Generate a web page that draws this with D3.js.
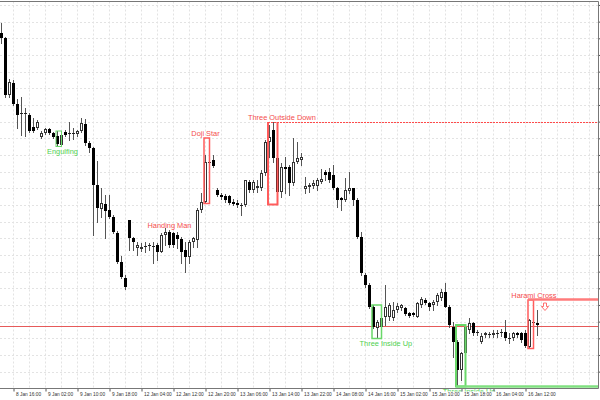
<!DOCTYPE html>
<html><head><meta charset="utf-8">
<script src="https://cdn.jsdelivr.net/npm/d3@7"></script>
<style>body{margin:0;background:#fff}svg{display:block}</style>
</head><body>
<script>
// ---- data (hourly candles) ----
const opens=[1.1967,1.1962,1.1905,1.1917,1.1896,1.1887,1.1887,1.1885,1.1873,1.1872,
1.1863,1.1867,1.1871,1.1867,1.1864,1.1855,1.1868,1.1867,1.1867,1.1866,
1.1869,1.1876,1.1857,1.1852,1.1815,1.1791,1.1796,1.1790,1.1783,1.1767,
1.1738,1.1722,1.1780,1.1762,1.1752,1.1751,1.1754,1.1755,1.1754,1.1755,
1.1748,1.1765,1.1768,1.1767,1.1765,1.1761,1.1750,1.1743,1.1758,1.1760,
1.1790,1.1798,1.1838,1.1840,1.1810,1.1805,1.1804,1.1804,1.1798,1.1797,
1.1795,1.1795,1.1818,1.1810,1.1812,1.1812,1.1827,1.1858,1.1870,1.1842,
1.1808,1.1833,1.1833,1.1817,1.1838,1.1840,1.1811,1.1813,1.1814,1.1814,
1.1818,1.1828,1.1828,1.1825,1.1812,1.1802,1.1800,1.1809,1.1812,1.1800,
1.1763,1.1725,1.1715,1.1693,1.1672,1.1673,1.1683,1.1683,1.1682,1.1690,
1.1692,1.1692,1.1687,1.1687,1.1683,1.1695,1.1700,1.1697,1.1695,1.1698,
1.1702,1.1708,1.1693,1.1673,1.1658,1.1630,1.1647,1.1670,1.1677,1.1668,
1.1658,1.1665,1.1666,1.1665,1.1666,1.1667,1.1668,1.1662,1.1662,1.1667,
1.1667,1.1667,1.1653,1.1678,1.1677];
const highs=[1.1977,1.1963,1.1921,1.1920,1.1901,1.1903,1.1892,1.1887,1.1882,1.1880,
1.1869,1.1872,1.1872,1.1868,1.1869,1.1869,1.1870,1.1878,1.1872,1.1870,
1.1882,1.1881,1.1859,1.1853,1.1839,1.1812,1.1805,1.1805,1.1785,1.1769,
1.1744,1.1725,1.1780,1.1763,1.1758,1.1757,1.1758,1.1757,1.1758,1.1757,
1.1767,1.1772,1.1770,1.1768,1.1768,1.1763,1.1758,1.1760,1.1763,1.1792,
1.1807,1.1845,1.1862,1.1845,1.1812,1.1807,1.1806,1.1805,1.1801,1.1800,
1.1797,1.1820,1.1820,1.1820,1.1820,1.1830,1.1860,1.1875,1.1878,1.1847,
1.1837,1.1843,1.1835,1.1862,1.1858,1.1847,1.1823,1.1817,1.1820,1.1822,
1.1831,1.1830,1.1832,1.1835,1.1813,1.1803,1.1822,1.1828,1.1812,1.1802,
1.1768,1.1727,1.1717,1.1695,1.1680,1.1685,1.1715,1.1697,1.1698,1.1697,
1.1696,1.1693,1.1688,1.1688,1.1698,1.1703,1.1702,1.1698,1.1700,1.1707,
1.1711,1.1717,1.1695,1.1678,1.1660,1.1648,1.1675,1.1682,1.1678,1.1670,
1.1667,1.1668,1.1668,1.1670,1.1670,1.1671,1.1680,1.1667,1.1668,1.1668,
1.1668,1.1670,1.1681,1.1700,1.1690];
const lows=[1.1957,1.1903,1.1903,1.1895,1.1872,1.1865,1.1864,1.1868,1.1868,1.1871,
1.1862,1.1866,1.1866,1.1862,1.1855,1.1854,1.1864,1.1860,1.1861,1.1864,
1.1868,1.1855,1.1848,1.1765,1.1778,1.1783,1.1762,1.1782,1.1767,1.1737,
1.1722,1.1711,1.1750,1.1750,1.1745,1.1749,1.1748,1.1750,1.1737,1.1740,
1.1748,1.1755,1.1753,1.1753,1.1752,1.1737,1.1728,1.1737,1.1753,1.1753,
1.1788,1.1797,1.1833,1.1833,1.1804,1.1801,1.1798,1.1796,1.1795,1.1793,
1.1785,1.1794,1.1808,1.1808,1.1808,1.1810,1.1825,1.1843,1.1838,1.1796,
1.1803,1.1807,1.1805,1.1815,1.1837,1.1835,1.1807,1.1808,1.1812,1.1810,
1.1817,1.1820,1.1818,1.1811,1.1793,1.1790,1.1799,1.1807,1.1795,1.1762,
1.1725,1.1713,1.1692,1.1672,1.1662,1.1670,1.1675,1.1680,1.1680,1.1688,
1.1690,1.1685,1.1683,1.1684,1.1683,1.1693,1.1696,1.1690,1.1690,1.1695,
1.1700,1.1693,1.1673,1.1643,1.1614,1.1620,1.1645,1.1667,1.1665,1.1665,
1.1657,1.1663,1.1663,1.1663,1.1663,1.1664,1.1660,1.1657,1.1660,1.1663,
1.1658,1.1653,1.1652,1.1670,1.1665];
const closes=[1.1962,1.1905,1.1918,1.1896,1.1885,1.1886,1.1887,1.1869,1.1869,1.1878,
1.1867,1.1871,1.1867,1.1863,1.1856,1.1865,1.1865,1.1866,1.1867,1.1869,
1.1877,1.1857,1.1852,1.1815,1.1792,1.1797,1.1789,1.1783,1.1768,1.1738,
1.1723,1.1713,1.1762,1.1758,1.1755,1.1753,1.1754,1.1755,1.1754,1.1748,
1.1765,1.1768,1.1755,1.1755,1.1761,1.1748,1.1743,1.1758,1.1762,1.1790,
1.1798,1.1838,1.1837,1.1834,1.1805,1.1803,1.1800,1.1797,1.1796,1.1795,
1.1795,1.1820,1.1810,1.1818,1.1814,1.1827,1.1858,1.1863,1.1842,1.1808,
1.1833,1.1831,1.1817,1.1838,1.1842,1.1843,1.1814,1.1815,1.1817,1.1820,
1.1821,1.1825,1.1820,1.1812,1.1800,1.1800,1.1810,1.1812,1.1800,1.1763,
1.1727,1.1715,1.1693,1.1673,1.1678,1.1682,1.1693,1.1695,1.1690,1.1694,
1.1695,1.1686,1.1684,1.1685,1.1697,1.1701,1.1697,1.1693,1.1698,1.1705,
1.1708,1.1693,1.1675,1.1658,1.1630,1.1647,1.1673,1.1677,1.1667,1.1668,
1.1664,1.1667,1.1666,1.1667,1.1667,1.1668,1.1662,1.1662,1.1667,1.1665,
1.1660,1.1654,1.1680,1.1677,1.1675];

const tickBars=[3,11,19,27,35,43,51,59,67,75,83,91,99,107,115,123,131];
const tickLabels=["8 Jan 16:00","9 Jan 02:00","9 Jan 10:00","9 Jan 18:00","12 Jan 04:00","12 Jan 12:00",
"12 Jan 20:00","13 Jan 06:00","13 Jan 14:00","13 Jan 22:00","14 Jan 08:00","14 Jan 16:00",
"15 Jan 02:00","15 Jan 10:00","15 Jan 18:00","16 Jan 04:00","16 Jan 12:00"];

const levelPrices=[1.16735];

const patternNames=["Engulfing","Handing Man","Doji Star","Three Outside Down","Three Inside Up","Three Inside Up","Harami Cross"];
const patternStart=[14,42,51,67,93,114,132];
const patternEnd=[15,42,52,69,95,116,133];
const patternKind=["bull","bear","bear","bear","bull","bull","bear"];
const patternLabelAt=[15.25,42,51,70.1,96.1,116.9,133.1];
const patternBox=[1,0,1,1,1,1,1];
const patternExtend=["none","none","none","top","none","bottom","top"];
const patternArrow=[0,0,0,0,0,0,1];

// ---- layout ----
const W=600,H=400;
const plotL=0, plotR=598.5, plotT=1.5, plotB=388.5;
const svg=d3.select('body').append('svg').attr('width',W).attr('height',H);
const x=d3.scaleLinear().domain([0,1]).range([1.5,5.5]);
const y=d3.scaleLinear().domain([1.16,1.20]).range([400,0]);
const gridStep=0.00166667, gridBase=1.16117;
const gridPrices=d3.range(1,24).map(k=>gridBase+k*gridStep);
const gridBars=d3.range(3,150,4).filter(b=>x(b)<plotR);

const defs=svg.append('defs');
defs.append('clipPath').attr('id','plot').append('rect').attr('x',0).attr('y',plotT).attr('width',plotR).attr('height',plotB-plotT);
defs.append('clipPath').attr('id','lbl').append('rect').attr('x',0).attr('y',0).attr('width',plotR).attr('height',391.5);

const RED='#ff5c5c', GREEN='#6ad86a';

// grid
const grid=svg.append('g').attr('clip-path','url(#plot)');
grid.selectAll('.hg').data(gridPrices).join('line')
  .attr('x1',plotL).attr('x2',plotR).attr('y1',d=>Math.round(y(d))+0.5).attr('y2',d=>Math.round(y(d))+0.5)
  .attr('stroke','#e3e3e3').attr('stroke-dasharray','2,2');
grid.selectAll('.vg').data(gridBars).join('line')
  .attr('x1',d=>x(d)).attr('x2',d=>x(d)).attr('y1',plotT).attr('y2',plotB)
  .attr('stroke','#e3e3e3').attr('stroke-dasharray','2,2');

const plot=svg.append('g').attr('clip-path','url(#plot)');
// level lines
plot.selectAll('.lvl').data(levelPrices).join('line')
  .attr('x1',plotL).attr('x2',plotR).attr('y1',d=>y(d)).attr('y2',d=>y(d))
  .attr('stroke','#e65a5a').attr('stroke-width',1);

// candles
const idx=d3.range(opens.length);
plot.selectAll('.wick').data(idx).join('line')
  .attr('x1',i=>x(i)).attr('x2',i=>x(i))
  .attr('y1',i=>Math.round(y(highs[i]))).attr('y2',i=>Math.round(y(lows[i]))+1)
  .attr('stroke','#555').attr('stroke-width',1);
idx.forEach(i=>{
  const top=Math.round(y(Math.max(opens[i],closes[i])));
  const bot=Math.round(y(Math.min(opens[i],closes[i])));
  const bull=closes[i]>opens[i];
  const h=bot-top;
  if(h<2){
    plot.append('rect').attr('x',x(i)-1.5).attr('y',top).attr('width',3).attr('height',Math.max(1,h)).attr('fill','#222');
  } else if(bull){
    plot.append('rect').attr('x',x(i)-1).attr('y',top+0.5).attr('width',2).attr('height',h-1)
      .attr('fill','#fff').attr('stroke','#333').attr('stroke-width',1);
  } else {
    plot.append('rect').attr('x',x(i)-1.5).attr('y',top).attr('width',3).attr('height',h).attr('fill','#000');
  }
});

// patterns
const pat=svg.append('g').attr('clip-path','url(#plot)');
const lab=svg.append('g').attr('clip-path','url(#lbl)');
patternNames.forEach((name,k)=>{
  const s=patternStart[k], e=patternEnd[k];
  const col=patternKind[k]==='bull'?GREEN:RED;
  const hi=d3.max(d3.range(s,e+1),i=>highs[i]);
  const lo=d3.min(d3.range(s,e+1),i=>lows[i]);
  const top=y(hi), bot=y(lo)+0.5;
  const left=x(s)-1.5, right=x(e);
  const sw = (k===3||k===5)?2:1.5;
  if(patternBox[k]){
    if(patternExtend[k]==='top' && k===3){
      pat.append('path').attr('d',`M${left},${top}V${bot}H${right}V${top}`)
        .attr('fill','none').attr('stroke',col).attr('stroke-width',sw);
    } else {
      pat.append('rect').attr('x',left).attr('y',top).attr('width',right-left).attr('height',bot-top)
        .attr('fill','none').attr('stroke',col).attr('stroke-width',k===0?1:sw);
    }
  }
  if(patternExtend[k]==='top'){
    if(k===3){
      pat.append('line').attr('x1',left).attr('x2',plotR).attr('y1',Math.round(top)+0.5).attr('y2',Math.round(top)+0.5)
        .attr('stroke','#ff4a4a').attr('stroke-width',1).attr('stroke-dasharray','2,1');
    } else {
      pat.append('line').attr('x1',left).attr('x2',plotR).attr('y1',top-0.5).attr('y2',top-0.5)
        .attr('stroke','#ff7b7b').attr('stroke-width',2.5);
    }
  } else if(patternExtend[k]==='bottom'){
    pat.append('line').attr('x1',left).attr('x2',plotR).attr('y1',bot).attr('y2',bot)
      .attr('stroke','#80e080').attr('stroke-width',2.5);
  }
  if(patternArrow[k]){
    const cx=x(e)+11.5, t=top+3;
    pat.append('path').attr('d',`M${cx-1.5},${t}H${cx+1.5}V${t+3.5}H${cx+3.5}L${cx},${t+7.5}L${cx-3.5},${t+3.5}H${cx-1.5}Z`)
      .attr('fill','#fff').attr('stroke','#ff7070').attr('stroke-width',1);
  }
  const ly = patternKind[k]==='bull' ? (patternBox[k]? bot+7.5 : y(lows[s])+8) : (patternBox[k]? top-2 : y(highs[s])-2);
  lab.append('text').attr('x',x(patternLabelAt[k])).attr('y',ly).attr('text-anchor','middle')
    .attr('fill',patternKind[k]==='bull'?'#4fd04f':'#f44d4d')
    .style('font-family','"Liberation Sans", Arial, sans-serif').style('font-size','7.4px').text(name);
});

// axes
const xAxis=d3.axisBottom(x).tickValues(tickBars).tickFormat((d,i)=>tickLabels[i]).tickSize(3).tickSizeOuter(0);
const gx=svg.append('g').attr('transform',`translate(0,${plotB})`).call(xAxis);
gx.select('.domain').remove();
gx.selectAll('line').attr('stroke','#555');
gx.selectAll('text').attr('text-anchor','start').attr('x',2).attr('y',7.5).attr('dy',0)
  .attr('fill','#333').style('font-family','"Liberation Sans", Arial, sans-serif').style('font-size','4.8px');

const yAxis=d3.axisRight(y).tickValues(gridPrices).tickSize(3).tickFormat('');
const gy=svg.append('g').attr('transform',`translate(${plotR},0)`).call(yAxis);
gy.select('.domain').remove();
gy.selectAll('line').attr('stroke','#555');

// frame
svg.append('path').attr('d',`M0,${plotT}H${plotR}V${plotB}H0`).attr('fill','none').attr('stroke','#777').attr('stroke-width',1);
</script>
</body></html>
